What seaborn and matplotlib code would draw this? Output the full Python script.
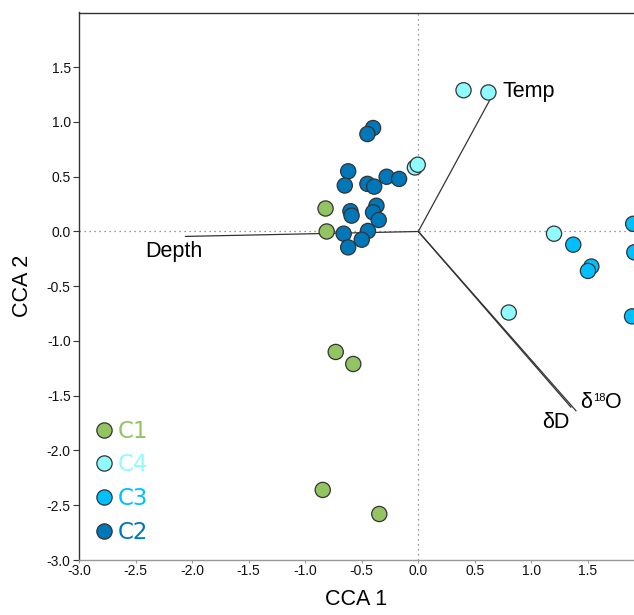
import numpy as np
import pandas as pd
import matplotlib
matplotlib.use("Agg")
import matplotlib.pyplot as plt
import seaborn as sns

# site scores (CCA 1, CCA 2) per cluster
c1_x = [-0.82, -0.81, -0.73, -0.575, -0.845, -0.345]
c1_y = [0.21, 0.00, -1.10, -1.21, -2.36, -2.58]
c4_x = [0.40, 0.62, -0.03, -0.005, 1.20, 0.80]
c4_y = [1.29, 1.27, 0.585, 0.61, -0.02, -0.74]
c3_x = [1.37, 1.53, 1.50, 1.90, 1.91, 1.89]
c3_y = [-0.12, -0.32, -0.36, 0.07, -0.19, -0.775]
c2_x = [-0.40, -0.45, -0.62, -0.65, -0.45, -0.39, -0.28, -0.17, -0.60, -0.59,
        -0.37, -0.40, -0.35, -0.445, -0.66, -0.50, -0.62]
c2_y = [0.945, 0.89, 0.55, 0.42, 0.435, 0.41, 0.50, 0.48, 0.185, 0.145,
        0.235, 0.175, 0.105, 0.005, -0.02, -0.075, -0.145]

clusters = ["C1", "C4", "C3", "C2"]
colors = ["#93c462", "#8ffbff", "#00bfff", "#0077b8"]

# environmental vectors (end points)
vec_names = ["Depth", "Temp", "δ18O", "δD"]
vec_x = [-2.06, 0.637, 1.395, 1.35]
vec_y = [-0.045, 1.21, -1.638, -1.605]

rows = []
for name, xs, ys in zip(clusters, [c1_x, c4_x, c3_x, c2_x], [c1_y, c4_y, c3_y, c2_y]):
    for x, y in zip(xs, ys):
        rows.append({"CCA 1": x, "CCA 2": y, "cluster": name})
df = pd.DataFrame(rows)

sns.set_style("white")
plt.rcParams['font.family'] = ['Liberation Sans', 'DejaVu Sans']
plt.rcParams['text.color'] = 'black'
plt.rcParams['axes.labelcolor'] = 'black'
plt.rcParams['xtick.labelcolor'] = '#111111'
plt.rcParams['ytick.labelcolor'] = '#111111'

fig = plt.figure(figsize=(6.34, 6.15), dpi=100)
ax = fig.add_axes([79 / 634, 55 / 615, 1 - 79 / 634, (560 - 12.5) / 615])

ax.axhline(0, color="#777777", lw=0.9, ls=(0, (1, 3)), zorder=0)
ax.axvline(0, color="#777777", lw=0.9, ls=(0, (1, 3)), zorder=0)

for vx, vy in zip(vec_x, vec_y):
    ax.plot([0, vx], [0, vy], color="#333333", lw=0.9, zorder=1)

sns.scatterplot(data=df, x="CCA 1", y="CCA 2", hue="cluster", hue_order=clusters,
                palette=colors, s=120, edgecolor="#333333", linewidth=0.9,
                ax=ax, zorder=3, legend=False)

ax.text(0.743, 1.23, "Temp", fontsize=15.5, va="baseline")
ax.text(-2.416, -0.237, "Depth", fontsize=15.5, va="baseline")
# δ18O drawn in pieces so the superscript sits like the original
ax.text(1.434, -1.613, "δ", fontsize=15.5, va="baseline")
ax.text(1.542, -1.545, "18", fontsize=8, va="baseline")
ax.text(1.652, -1.613, "O", fontsize=15.5, va="baseline")
ax.text(1.097, -1.796, "δD", fontsize=15.5, va="baseline")

# legend
handles = [plt.Line2D([], [], marker="o", ls="", markersize=11, markerfacecolor=c,
                      markeredgecolor="#333333", markeredgewidth=0.9) for c in colors]
leg = ax.legend(handles, clusters, loc="lower left", bbox_to_anchor=(0.0, 0.0),
                frameon=False, handletextpad=0.2, labelspacing=0.47, borderaxespad=0.3,
                prop={"family": "DejaVu Sans", "size": 16.5}, handlelength=0.8)
for t, c in zip(leg.get_texts(), colors):
    t.set_color(c)

ax.set_xlim(-3.0, (634 - 418.3) / 113.1)
ax.set_ylim(-3.0, 2.0)
ax.set_xticks(np.arange(-3.0, 2.0, 0.5))
ax.set_yticks(np.arange(-3.0, 2.0, 0.5))
ax.xaxis.set_major_formatter(matplotlib.ticker.FormatStrFormatter("%.1f"))
ax.yaxis.set_major_formatter(matplotlib.ticker.FormatStrFormatter("%.1f"))
ax.tick_params(axis="y", left=True, length=4, width=0.8, color="#333333",
               labelsize=10, pad=2)
ax.tick_params(axis="x", bottom=True, length=2, width=0.8, color="#999999",
               labelsize=10, pad=1)
ax.set_xlabel("CCA 1", fontsize=15.5, labelpad=8)
ax.set_ylabel("CCA 2", fontsize=15.5, labelpad=10)

ax.spines["right"].set_visible(False)
ax.spines["left"].set_color("#333333")
ax.spines["top"].set_color("#333333")
ax.spines["bottom"].set_color("#999999")
for s in ["left", "top", "bottom"]:
    ax.spines[s].set_linewidth(1.0)

fig.savefig("out.png", dpi=100)
